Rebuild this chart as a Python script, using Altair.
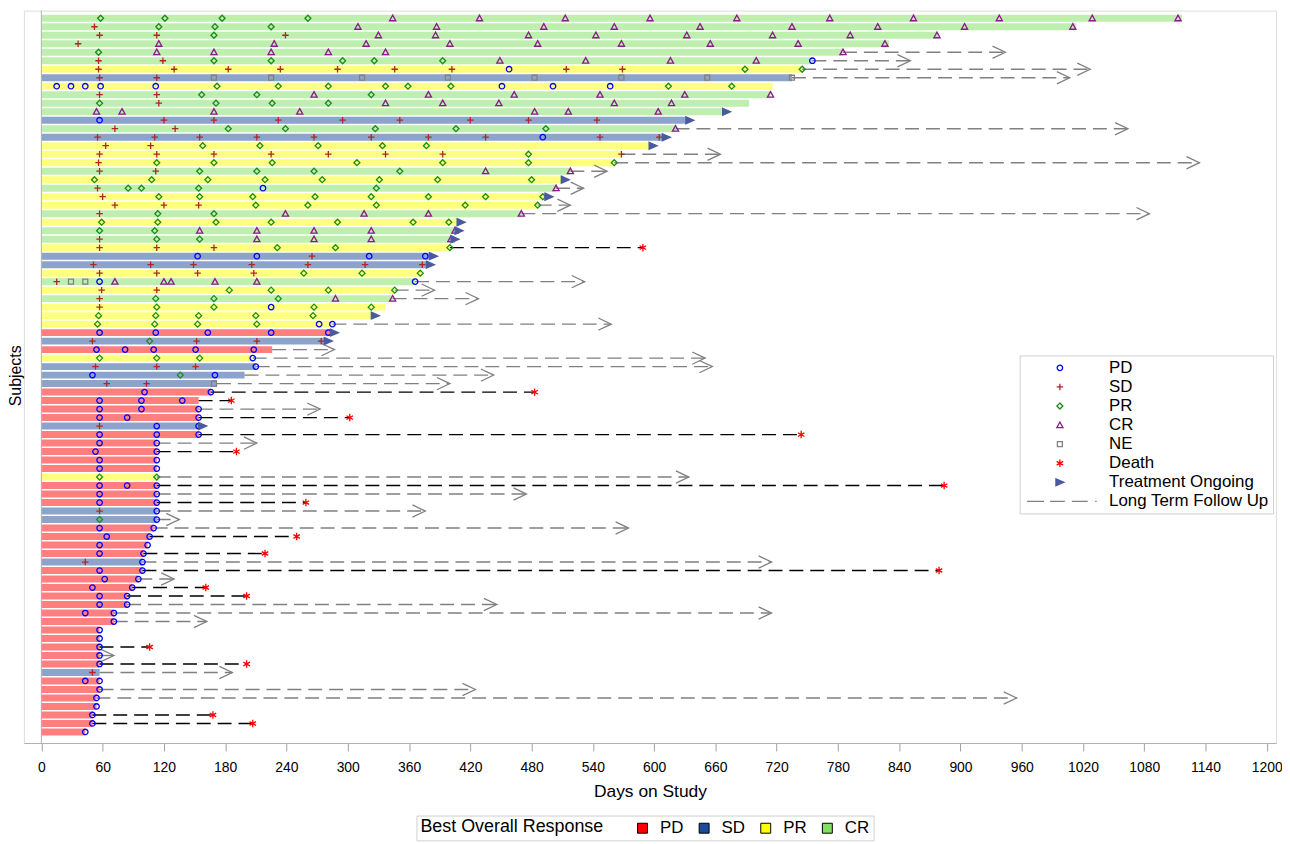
import altair as alt
import pandas as pd

# ---------------- data ----------------
best = ["CR", "CR", "CR", "CR", "CR", "CR", "PR", "SD", "PR", "CR",
        "CR", "CR", "SD", "CR", "SD", "PR", "PR", "PR", "CR", "PR",
        "CR", "PR", "PR", "CR", "PR", "CR", "CR", "PR", "SD", "SD",
        "PR", "CR", "PR", "CR", "PR", "PR", "PR", "PD", "SD", "PD",
        "PR", "SD", "SD", "SD", "PD", "PD", "PD", "PD", "SD", "PD",
        "PD", "PD", "PD", "PD", "PR", "PD", "PD", "PD", "SD", "SD",
        "PD", "PD", "PD", "PD", "SD", "PD", "PD", "PD", "PD", "PD",
        "PD", "PD", "PD", "PD", "PD", "PD", "PD", "SD", "PD", "PD",
        "PD", "PD", "PD", "PD", "PD"]

bar_end = [1117, 1013, 878, 830, 785, 755, 745, 735, 716, 714,
           693, 667, 631, 621, 608, 595, 568, 561, 518, 509,
           504, 493, 486, 470, 407, 405, 401, 400, 380, 377,
           373, 366, 346, 344, 337, 323, 285, 283, 277, 226,
           207, 210, 199, 172, 166, 154, 154, 154, 154, 154,
           113, 113, 113, 113, 113, 113, 113, 113, 113, 113,
           110, 106, 104, 100, 99, 99, 95, 89, 84, 84,
           71, 71, 57, 57, 57, 57, 57, 57, 57, 57,
           54, 54, 50, 50, 43]

ongoing_subjects = [12, 13, 15, 16, 20, 22, 25, 26, 27, 29, 30, 36, 38, 39, 49]

# long term follow up: subject -> end day ; death_subjects end with a death
ltfu_subject = [5, 6, 7, 8, 14, 17, 18, 19, 21, 23, 24, 28, 32, 33, 34, 37, 40, 41, 42, 43,
                44, 45, 46, 47, 48, 50, 51, 52, 55, 56, 57, 58, 59, 60, 61, 62, 64, 65, 66,
                67, 68, 69, 70, 71, 72, 75, 76, 77, 78, 80, 81, 83, 84]
ltfu_day = [944, 851, 1027, 1007, 1064, 665, 1134, 554, 531, 518, 1085, 589, 532, 385, 428, 558, 287, 650, 657, 443,
            400, 483, 186, 273, 302, 744, 211, 191, 634, 884, 475, 259, 376, 135, 575, 250, 219, 715, 879,
            130, 161, 201, 446, 715, 162, 106, 71, 201, 187, 425, 955, 168, 207]
death_subjects = [28, 45, 46, 48, 50, 52, 56, 58, 62, 64, 66, 68, 69, 75, 77, 83, 84]

assess = [
    [(58, "PR"), (121, "PR"), (177, "PR"), (261, "PR"), (344, "CR"), (429, "CR"), (513, "CR"), (596, "CR"), (681, "CR"), (772, "CR"), (854, "CR"), (938, "CR"), (1029, "CR"), (1113, "CR")],
    [(52, "SD"), (115, "PR"), (170, "PR"), (225, "PR"), (310, "CR"), (387, "CR"), (492, "CR"), (561, "CR"), (645, "CR"), (735, "CR"), (819, "CR"), (904, "CR"), (1010, "CR")],
    [(57, "SD"), (113, "SD"), (169, "PR"), (239, "SD"), (330, "CR"), (386, "CR"), (477, "CR"), (543, "CR"), (632, "CR"), (716, "CR"), (792, "CR"), (877, "CR")],
    [(36, "SD"), (115, "CR"), (228, "CR"), (318, "CR"), (400, "CR"), (486, "CR"), (568, "CR"), (655, "CR"), (741, "CR"), (826, "CR")],
    [(56, "PR"), (113, "CR"), (169, "CR"), (225, "CR"), (281, "CR"), (337, "CR"), (785, "CR")],
    [(56, "SD"), (119, "SD"), (169, "PR"), (225, "PR"), (295, "PR"), (326, "PR"), (393, "PR"), (449, "CR"), (533, "CR"), (616, "CR"), (700, "CR"), (755, "PD")],
    [(56, "SD"), (130, "SD"), (183, "SD"), (234, "SD"), (290, "SD"), (346, "SD"), (402, "SD"), (458, "PD"), (514, "SD"), (569, "SD"), (689, "PR"), (745, "PR")],
    [(57, "SD"), (113, "SD"), (169, "NE"), (225, "NE"), (314, "NE"), (398, "NE"), (483, "NE"), (568, "NE"), (652, "NE"), (735, "NE")],
    [(15, "PD"), (29, "PD"), (43, "PD"), (58, "PD"), (112, "PD"), (172, "PR"), (232, "PR"), (281, "PR"), (337, "PR"), (359, "PR"), (401, "PR"), (451, "PD"), (501, "PD"), (557, "PD"), (614, "PR"), (676, "PR")],
    [(57, "SD"), (113, "SD"), (157, "PR"), (211, "PR"), (267, "CR"), (323, "PR"), (379, "CR"), (463, "CR"), (547, "CR"), (630, "CR"), (714, "CR")],
    [(57, "PR"), (115, "SD"), (171, "PR"), (226, "PR"), (281, "PR"), (337, "CR"), (393, "CR"), (448, "CR"), (561, "CR"), (617, "CR")],
    [(54, "CR"), (79, "CR"), (169, "CR"), (253, "CR"), (483, "CR"), (516, "CR"), (604, "CR")],
    [(57, "PD"), (120, "SD"), (169, "SD"), (232, "SD"), (295, "SD"), (351, "SD"), (420, "SD"), (477, "SD"), (544, "SD")],
    [(72, "SD"), (131, "SD"), (183, "PR"), (239, "PR"), (327, "PR"), (406, "PR"), (494, "PR"), (621, "CR")],
    [(55, "SD"), (111, "SD"), (155, "SD"), (211, "SD"), (267, "SD"), (323, "SD"), (379, "SD"), (435, "SD"), (491, "PD"), (547, "SD"), (605, "SD")],
    [(63, "SD"), (107, "SD"), (158, "PR"), (214, "PR"), (271, "PR"), (334, "PR"), (377, "PR")],
    [(57, "SD"), (113, "SD"), (169, "SD"), (225, "SD"), (281, "SD"), (337, "SD"), (393, "SD"), (477, "PR"), (568, "SD")],
    [(56, "SD"), (113, "PR"), (169, "PR"), (226, "PR"), (309, "PR"), (393, "PR"), (477, "PR"), (561, "PR")],
    [(57, "SD"), (112, "SD"), (155, "PR"), (211, "PR"), (267, "PR"), (351, "PR"), (435, "CR"), (518, "CR")],
    [(52, "PR"), (108, "PR"), (163, "PR"), (219, "PR"), (275, "PR"), (331, "PR"), (388, "PR"), (480, "PR")],
    [(55, "SD"), (85, "PR"), (98, "PR"), (154, "PR"), (217, "PD"), (328, "PR"), (504, "CR")],
    [(60, "SD"), (115, "PR"), (155, "PR"), (207, "PR"), (268, "PR"), (323, "PR"), (379, "PR"), (435, "PR"), (491, "PR")],
    [(72, "SD"), (120, "SD"), (154, "SD"), (210, "PR"), (261, "PR"), (328, "PR"), (415, "PR"), (486, "PR")],
    [(57, "SD"), (114, "PR"), (169, "PR"), (239, "CR"), (316, "CR"), (379, "CR"), (470, "CR")],
    [(59, "PR"), (114, "PR"), (171, "PR"), (225, "PR"), (290, "PR"), (364, "PR"), (399, "PR")],
    [(57, "PR"), (111, "PR"), (155, "CR"), (211, "CR"), (267, "CR"), (323, "CR"), (405, "CR")],
    [(57, "SD"), (113, "PR"), (155, "PR"), (211, "CR"), (267, "CR"), (323, "CR"), (401, "CR")],
    [(57, "SD"), (113, "SD"), (169, "SD"), (231, "PR"), (288, "PR"), (400, "PR")],
    [(153, "PD"), (211, "PD"), (265, "SD"), (321, "PD"), (376, "PD")],
    [(51, "SD"), (107, "SD"), (149, "SD"), (206, "SD"), (261, "SD"), (317, "SD"), (373, "SD")],
    [(57, "SD"), (113, "SD"), (153, "SD"), (208, "SD"), (257, "PR"), (314, "PR"), (371, "PR")],
    [(15, "SD"), (29, "NE"), (43, "NE"), (57, "PD"), (72, "CR"), (120, "CR"), (127, "CR"), (170, "CR"), (211, "CR"), (366, "PD")],
    [(59, "SD"), (113, "SD"), (184, "PR"), (225, "PR"), (281, "PR"), (346, "PR")],
    [(57, "SD"), (112, "PR"), (169, "PR"), (232, "PR"), (288, "CR"), (344, "CR")],
    [(57, "SD"), (113, "PR"), (169, "PR"), (225, "PD"), (267, "PR"), (323, "PR")],
    [(56, "PR"), (112, "PR"), (154, "PR"), (210, "PR"), (266, "PR")],
    [(55, "PR"), (111, "PR"), (153, "PR"), (211, "PR"), (272, "PD"), (285, "PD")],
    [(57, "PD"), (112, "PD"), (163, "PD"), (225, "PD"), (281, "PD")],
    [(50, "SD"), (106, "PR"), (152, "SD"), (211, "SD"), (274, "SD")],
    [(54, "PD"), (82, "PD"), (110, "PD"), (151, "PD"), (208, "PD")],
    [(57, "PR"), (113, "PR"), (155, "PR"), (207, "PD")],
    [(53, "SD"), (113, "SD"), (151, "SD"), (210, "PD")],
    [(50, "PD"), (136, "PR"), (170, "PD")],
    [(64, "SD"), (103, "SD"), (169, "NE")],
    [(101, "PD"), (166, "PD")],
    [(57, "PD"), (98, "PD"), (138, "PD")],
    [(57, "PD"), (98, "PD"), (154, "PD")],
    [(57, "PD"), (84, "PD"), (154, "PD")],
    [(57, "SD"), (113, "PD"), (154, "PD")],
    [(57, "PD"), (113, "PD"), (154, "PD")],
    [(57, "PD"), (113, "PD")],
    [(53, "PD"), (113, "PD")],
    [(57, "PD"), (113, "PD")],
    [(57, "PD"), (113, "PD")],
    [(57, "PR"), (113, "PR")],
    [(57, "PD"), (84, "PD"), (113, "PD")],
    [(57, "PD"), (113, "PD")],
    [(57, "PD"), (113, "PD")],
    [(57, "SD"), (113, "PD")],
    [(57, "PR"), (113, "PD")],
    [(57, "PD"), (110, "PD")],
    [(64, "PD"), (106, "PD")],
    [(57, "PD"), (104, "PD")],
    [(57, "PD"), (100, "PD")],
    [(43, "SD"), (99, "PD")],
    [(57, "PD"), (99, "PD")],
    [(62, "PD"), (95, "PD")],
    [(50, "PD"), (89, "PD")],
    [(57, "PD"), (84, "PD")],
    [(57, "PD"), (84, "PD")],
    [(43, "PD"), (71, "PD")],
    [(71, "PD")],
    [(57, "PD")],
    [(57, "PD")],
    [(57, "PD")],
    [(57, "PD")],
    [(57, "PD")],
    [(50, "SD")],
    [(43, "PD"), (57, "PD")],
    [(57, "PD")],
    [(54, "PD")],
    [(54, "PD")],
    [(50, "PD")],
    [(50, "PD")],
    [(43, "PD")],
]

resp_domain = ["PD", "SD", "PR", "CR"]
resp_colors = ["#FF0000", "#1A4A99", "#FFFF00", "#80E060"]

event_domain = ["PD", "SD", "PR", "CR", "NE", "Death", "Treatment Ongoing", "Long Term Follow Up"]
event_stroke = ["#0000FF", "#B02525", "#1A8C1A", "#8B1A8B", "#808080", "#FF0000", "#4A5AA0", "#808080"]
event_fill = ["transparent"] * 6 + ["#4A5AA0", "transparent"]
event_shape = [
    "M0.55,0A0.55,0.55,0,1,1,-0.55,0A0.55,0.55,0,1,1,0.55,0Z",
    "M-0.65,0L0.65,0M0,-0.65L0,0.65",
    "M0,-0.6L0.6,0L0,0.6L-0.6,0Z",
    "M0,-0.62L0.62,0.5L-0.62,0.5Z",
    "M-0.5,-0.5L0.5,-0.5L0.5,0.5L-0.5,0.5Z",
    "M0,-0.75L0,0.75M-0.65,-0.375L0.65,0.375M-0.65,0.375L0.65,-0.375",
    "M-0.8,-0.7L0.8,0L-0.8,0.7Z",
    "M-6.6,0L-3.2,0M-2,0L1,0M2.4,0L5.6,0M7.1,0L7.4,0",
]

FONT = "Liberation Sans"

# ---------------- tables ----------------
n = len(best)
bar_rows = [dict(subj=i + 1, lo=i + 1 - 0.41, hi=i + 1 + 0.41, start=0, end=bar_end[i], best=best[i])
            for i in range(n)]
df_bar = pd.DataFrame(bar_rows)

l_rows = []
for s, d in zip(ltfu_subject, ltfu_day):
    l_rows.append(dict(subj=s, x=bar_end[s - 1], x2=d,
                       kind="death" if s in death_subjects else "arrow"))
df_l = pd.DataFrame(l_rows)

m_rows = []
for i, lst in enumerate(assess):
    for d, c in lst:
        m_rows.append(dict(subj=i + 1, day=d, event=c))
for s in ongoing_subjects:
    m_rows.append(dict(subj=s, day=bar_end[s - 1] + 4, event="Treatment Ongoing"))
for s, d in zip(ltfu_subject, ltfu_day):
    if s in death_subjects:
        m_rows.append(dict(subj=s, day=d, event="Death"))
df_m = pd.DataFrame(m_rows)

# ---------------- scales ----------------
xs = alt.Scale(domain=[-17.1, 1209], nice=False, zero=False)
ys = alt.Scale(domain=[0.1, 86.3], reverse=True, nice=False, zero=False)

x_axis = alt.Axis(values=list(range(0, 1201, 60)), format="d", grid=False, title="Days on Study",
                  titleFont=FONT, titleFontSize=17.5, titleFontWeight="normal", titleColor="black",
                  titlePadding=8, labelFont=FONT, labelFontSize=14, labelColor="black",
                  labelPadding=10, labelFlush=False, tickColor="#a0a0a0", tickSize=8,
                  domainColor="#b0b0b0")
y_axis = alt.Axis(title="Subjects", labels=False, ticks=False, domain=False, grid=False,
                  titleFont=FONT, titleFontSize=16, titleFontWeight="normal", titleColor="black",
                  titleX=-8, titleY=367, titleBaseline="middle", titleAngle=270)

bars = alt.Chart(df_bar).mark_bar(opacity=0.5).encode(
    x=alt.X("start:Q", scale=xs, axis=x_axis),
    x2="end:Q",
    y=alt.Y("lo:Q", scale=ys, axis=y_axis),
    y2="hi:Q",
    color=alt.Color("best:N", scale=alt.Scale(domain=resp_domain, range=resp_colors),
                    legend=alt.Legend(title="Best Overall Response", orient="none", direction="horizontal",
                                      legendX=395, legendY=810, titleOrient="left", titleLimit=400,
                                      titleFont=FONT, titleFontSize=18, titleFontWeight="normal",
                                      titleColor="black", titlePadding=30,
                                      labelFont=FONT, labelFontSize=17, labelColor="black",
                                      symbolType="square", symbolSize=100, symbolStrokeColor="black",
                                      symbolStrokeWidth=1, symbolOpacity=1, columnPadding=12,
                                      labelOffset=9, padding=4, strokeColor="#d0d0d0",
                                      fillColor="white")),
)

zero_line = alt.Chart(pd.DataFrame({"x": [0]})).mark_rule(color="#b0b0b0", strokeWidth=1).encode(
    x=alt.X("x:Q", scale=xs))

ltfu_gray = alt.Chart(df_l).transform_filter("datum.kind == 'arrow'").mark_rule(
    color="#808080", strokeWidth=1.4, strokeDash=[14, 7]).encode(
    x=alt.X("x:Q", scale=xs), x2="x2:Q", y=alt.Y("subj:Q", scale=ys))
ltfu_black = alt.Chart(df_l).transform_filter("datum.kind == 'death'").mark_rule(
    color="#000000", strokeWidth=1.4, strokeDash=[14, 7]).encode(
    x=alt.X("x:Q", scale=xs), x2="x2:Q", y=alt.Y("subj:Q", scale=ys))
arrows = alt.Chart(df_l).transform_filter("datum.kind == 'arrow'").mark_point(
    shape="M-2,-0.95L0,0L-2,0.95", size=169, filled=False, color="#808080",
    strokeWidth=1.3, opacity=1).encode(
    x=alt.X("x2:Q", scale=xs), y=alt.Y("subj:Q", scale=ys))

leg = alt.Legend(title=None, orient="none", legendX=1002, legendY=347,
                 labelFont=FONT, labelFontSize=17, labelColor="black", labelLimit=400,
                 symbolSize=100, symbolStrokeWidth=1.3, symbolOffset=28, labelOffset=41,
                 rowPadding=1.2, padding=4, strokeColor="#d0d0d0", fillColor="white")

markers = alt.Chart(df_m).mark_point(size=100, strokeWidth=1.3, opacity=1).encode(
    x=alt.X("day:Q", scale=xs),
    y=alt.Y("subj:Q", scale=ys),
    shape=alt.Shape("event:N", scale=alt.Scale(domain=event_domain, range=event_shape), legend=leg),
    stroke=alt.Stroke("event:N", scale=alt.Scale(domain=event_domain, range=event_stroke), legend=leg),
    fill=alt.Fill("event:N", scale=alt.Scale(domain=event_domain, range=event_fill), legend=leg),
)

chart = alt.layer(bars, zero_line, ltfu_gray, ltfu_black, arrows, markers).properties(
    width=1260, height=737,
    autosize=alt.AutoSizeParams(type="none"),
    padding={"left": 16, "top": 0, "right": 6, "bottom": 99},
).configure_view(stroke="#b0b0b0", strokeWidth=1).configure(font=FONT)

chart.save("out.html", embed_options={"renderer": "svg", "actions": False})
